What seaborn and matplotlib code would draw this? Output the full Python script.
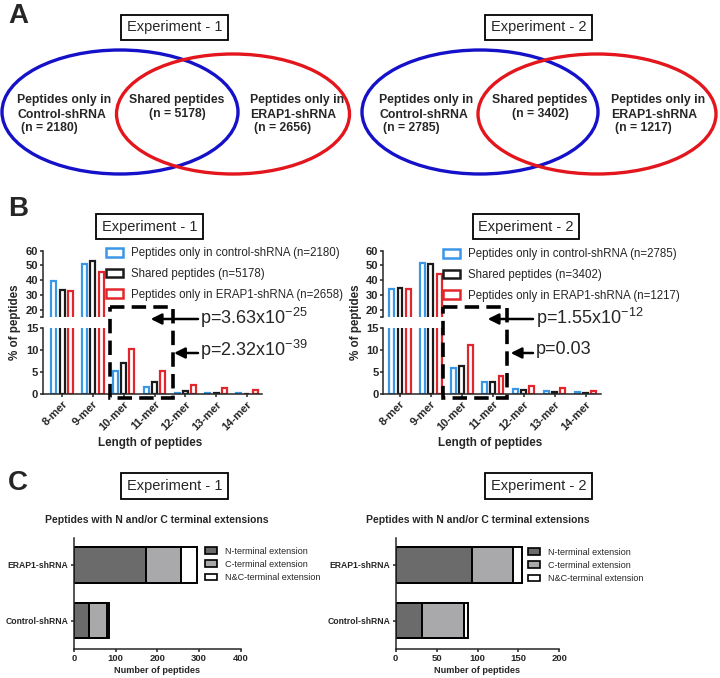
import numpy as np
import pandas as pd
import matplotlib
matplotlib.use("Agg")
import matplotlib.pyplot as plt
import seaborn as sns
from matplotlib.patches import Ellipse, Rectangle, Patch

sns.set_theme(style="ticks")
plt.rcParams["font.family"] = ["Liberation Sans", "DejaVu Sans"]
plt.rcParams["mathtext.default"] = "regular"
plt.rcParams["axes.linewidth"] = 1.1
plt.rcParams["xtick.major.width"] = 1.1
plt.rcParams["ytick.major.width"] = 1.1
plt.rcParams["xtick.major.size"] = 2.5
plt.rcParams["ytick.major.size"] = 2.5

W, H = 720, 678

# ---------------- data ----------------
experiments = ["Experiment - 1", "Experiment - 2"]

# Panel A (Venn counts): control-only, shared, ERAP1-only
venn_exp1 = [2180, 5178, 2656]
venn_exp2 = [2785, 3402, 1217]

# Panel B (% of peptides by length)
lengths = ["8-mer", "9-mer", "10-mer", "11-mer", "12-mer", "13-mer", "14-mer"]
series = ["control", "shared", "erap1"]
exp1_control = [39.1, 50.7, 5.4, 1.7, 0.4, 0.3, 0.2]
exp1_shared = [33.5, 53.3, 7.0, 2.7, 0.7, 0.3, 0.1]
exp1_erap1 = [32.8, 45.2, 10.3, 5.4, 2.2, 1.5, 0.9]
exp2_control = [34.3, 51.8, 6.0, 2.8, 1.2, 0.7, 0.5]
exp2_shared = [34.6, 50.9, 6.4, 2.9, 1.0, 0.6, 0.3]
exp2_erap1 = [33.9, 44.0, 11.3, 4.1, 1.8, 1.4, 0.8]
legend_n_exp1 = [2180, 5178, 2658]
legend_n_exp2 = [2785, 3402, 1217]
pvals_exp1 = ["p=3.63x10$^{-25}$", "p=2.32x10$^{-39}$"]
pvals_exp2 = ["p=1.55x10$^{-12}$", "p=0.03"]

# Panel C (number of peptides with extensions)
conditions = ["ERAP1-shRNA", "Control-shRNA"]
ext_labels = ["N-terminal extension", "C-terminal extension", "N&C-terminal extension"]
exp1_nterm = [172, 35]
exp1_cterm = [84, 45]
exp1_ncterm = [40, 4]
exp2_nterm = [93, 32]
exp2_cterm = [50, 52]
exp2_ncterm = [11, 4]

# ---------------- styling ----------------
bar_colors = {"control": "#3a96e6", "shared": "#1a1a1a", "erap1": "#e3262b"}
ext_colors = ["#6b6b6b", "#a9a9ac", "#ffffff"]

fig = plt.figure(figsize=(W / 100, H / 100), dpi=100)
fig.patch.set_facecolor("white")


def rect(x0, y0, x1, y1):
    return [x0 / W, 1 - y1 / H, (x1 - x0) / W, (y1 - y0) / H]


def fpt(x, y):
    return (x / W, 1 - y / H)


# ---------------- Panel B ----------------
b_specs = [
    dict(vals=[exp1_control, exp1_shared, exp1_erap1], n=legend_n_exp1, x0=43, x1=262,
         xlim=(-0.62, 6.49), leg=(106, 247.5), ylab_x=15),
    dict(vals=[exp2_control, exp2_shared, exp2_erap1], n=legend_n_exp2, x0=383.3, x1=600.7,
         xlim=(-0.54, 6.49), leg=(443, 248.5), ylab_x=356),
]
for spec in b_specs:
    df = pd.DataFrame({
        "length": lengths * 3,
        "group": sum([[s] * len(lengths) for s in series], []),
        "pct": sum(spec["vals"], []),
    })
    ax_hi = fig.add_axes(rect(spec["x0"], 250.7, spec["x1"], 316.9))
    ax_lo = fig.add_axes(rect(spec["x0"], 328.3, spec["x1"], 394.3))
    for ax in (ax_hi, ax_lo):
        sns.barplot(data=df, x="length", y="pct", hue="group", order=lengths,
                    hue_order=series, palette=bar_colors, fill=False, width=0.8,
                    gap=0.4, linewidth=1.6, saturation=1, errorbar=None,
                    legend=False, ax=ax)
        ax.set_xlim(*spec["xlim"])
        ax.patch.set_visible(False)
        ax.set_ylabel("")
        ax.set_xlabel("")
        for s in ("top", "right"):
            ax.spines[s].set_visible(False)
    ax_hi.set_ylim(15, 60)
    ax_hi.set_yticks([15, 20, 30, 40, 50, 60])
    ax_hi.set_yticklabels(["", "20", "30", "40", "50", "60"], fontsize=8, fontweight="bold")
    ax_hi.spines["bottom"].set_visible(False)
    ax_hi.tick_params(axis="x", bottom=False, labelbottom=False)
    ax_lo.set_ylim(0, 15)
    ax_lo.set_yticks([0, 5, 10, 15])
    ax_lo.set_yticklabels(["0", "5", "10", "15"], fontsize=8, fontweight="bold")
    ax_lo.set_xticks(range(len(lengths)))
    ax_lo.set_xticklabels(lengths, rotation=45, ha="right", rotation_mode="anchor",
                          fontsize=8, fontweight="bold")
    ax_lo.tick_params(axis="both", pad=1)
    ax_hi.tick_params(axis="y", pad=1)
    cx = (spec["x0"] + spec["x1"]) / 2
    fig.text(*fpt(cx - 2, 443), "Length of peptides", ha="center", va="center",
             fontsize=8.4, fontweight="bold")
    fig.text(*fpt(spec["ylab_x"], 322), "% of peptides", ha="center", va="center",
             rotation=90, fontsize=8.4, fontweight="bold")
    handles = [Patch(facecolor="white", edgecolor=bar_colors[s], linewidth=1.8) for s in series]
    labels = [f"Peptides only in control-shRNA (n={spec['n'][0]})",
              f"Shared peptides (n={spec['n'][1]})",
              f"Peptides only in ERAP1-shRNA (n={spec['n'][2]})"]
    fig.legend(handles, labels, loc="upper left", bbox_to_anchor=fpt(*spec["leg"]),
               bbox_transform=fig.transFigure, frameon=False, fontsize=8.3,
               handlelength=1.5, handleheight=0.75, handletextpad=0.7,
               labelspacing=0.74, borderpad=0, borderaxespad=0)

# ---------------- Panel C ----------------
c_specs = [
    dict(n=exp1_nterm, c=exp1_cterm, nc=exp1_ncterm, x0=74, x1=240.7, xmax=400,
         xticks=[0, 100, 200, 300, 400], title_x=157, leg=(205, 547)),
    dict(n=exp2_nterm, c=exp2_cterm, nc=exp2_ncterm, x0=395.7, x1=559.3, xmax=200,
         xticks=[0, 50, 100, 150, 200], title_x=477.5, leg=(528, 548)),
]
for spec in c_specs:
    dfc = pd.DataFrame({"cond": conditions, "n": spec["n"], "c": spec["c"], "nc": spec["nc"]})
    dfc["nc_cum"] = dfc["n"] + dfc["c"] + dfc["nc"]
    dfc["c_cum"] = dfc["n"] + dfc["c"]
    ax = fig.add_axes(rect(spec["x0"], 538, spec["x1"], 648.5))
    for col, colr in (("nc_cum", ext_colors[2]), ("c_cum", ext_colors[1]), ("n", ext_colors[0])):
        sns.barplot(data=dfc, x=col, y="cond", order=conditions, orient="h",
                    color=colr, saturation=1, edgecolor="black", linewidth=1.4,
                    width=0.64, errorbar=None, ax=ax)
    ax.set_xlim(0, spec["xmax"])
    ax.set_ylim(1.5, -0.48)
    ax.set_xticks(spec["xticks"])
    ax.set_xticklabels([str(v) for v in spec["xticks"]], fontsize=6.8, fontweight="bold")
    ax.set_yticks(range(len(conditions)))
    ax.set_yticklabels(conditions, fontsize=6.2, fontweight="bold")
    ax.tick_params(axis="both", pad=1.5)
    ax.set_ylabel("")
    ax.set_xlabel("Number of peptides", fontsize=6.6, fontweight="bold", labelpad=2)
    ax.patch.set_visible(False)
    for s in ("top", "right"):
        ax.spines[s].set_visible(False)
    fig.text(*fpt(spec["title_x"], 520), "Peptides with N and/or C terminal extensions",
             ha="center", va="center", fontsize=7.5, fontweight="bold")
    handles = [Patch(facecolor=c, edgecolor="black", linewidth=1.2) for c in ext_colors]
    fig.legend(handles, ext_labels, loc="upper left", bbox_to_anchor=fpt(*spec["leg"]),
               bbox_transform=fig.transFigure, frameon=False, fontsize=6.5,
               handlelength=1.3, handleheight=0.8, handletextpad=0.9,
               labelspacing=0.45, borderpad=0, borderaxespad=0)

# ---------------- Decorations / Panel A ----------------
deco = fig.add_axes([0, 0, 1, 1])
deco.set_xlim(0, W)
deco.set_ylim(H, 0)
deco.axis("off")
deco.patch.set_visible(False)

for letter, y in (("A", 16), ("B", 209), ("C", 483)):
    deco.text(18, y, letter, ha="center", va="center", fontsize=20, fontweight="bold")

box_centers = [(174.5, 27.5), (538.5, 27.5), (149.5, 226.5), (526, 226.5), (174.5, 486), (538.5, 486)]
for i, (x, y) in enumerate(box_centers):
    deco.text(x, y, experiments[i % 2], ha="center", va="center", fontsize=10.5,
              bbox=dict(boxstyle="square,pad=0.38", fc="white", ec="black", lw=1.3))

venn_specs = [
    dict(counts=venn_exp1, blue=(120, 112, 236, 124), red=(233, 114, 233, 120),
         lx=17, mx=177, rx=250),
    dict(counts=venn_exp2, blue=(480, 112, 236, 124), red=(597, 114, 238, 120),
         lx=379, mx=540, rx=611),
]
for v in venn_specs:
    bx, by, bw, bh = v["blue"]
    rx_, ry_, rw, rh = v["red"]
    deco.add_patch(Ellipse((bx, by), bw, bh, fill=False, ec="#1511c9", lw=2.4))
    deco.add_patch(Ellipse((rx_, ry_), rw, rh, fill=False, ec="#e3161d", lw=2.4))
    fs = 8.8
    deco.text(v["lx"], 100.5, "Peptides only in", ha="left", va="center", fontsize=fs, fontweight="bold")
    deco.text(v["lx"], 115, "Control-shRNA", ha="left", va="center", fontsize=fs, fontweight="bold")
    deco.text(v["lx"] + 4, 128.5, f"(n = {v['counts'][0]})", ha="left", va="center", fontsize=fs, fontweight="bold")
    deco.text(v["mx"], 100.5, "Shared peptides", ha="center", va="center", fontsize=fs, fontweight="bold")
    deco.text(v["mx"], 114.5, f"(n = {v['counts'][1]})", ha="center", va="center", fontsize=fs, fontweight="bold")
    deco.text(v["rx"], 100.5, "Peptides only in", ha="left", va="center", fontsize=fs, fontweight="bold")
    deco.text(v["rx"], 115, "ERAP1-shRNA", ha="left", va="center", fontsize=fs, fontweight="bold")
    deco.text(v["rx"] + 4, 128.5, f"(n = {v['counts'][2]})", ha="left", va="center", fontsize=fs, fontweight="bold")

# dashed boxes and p-value arrows (panel B)
annot = [
    dict(box=(110, 307, 173, 398), up=(198, 150.7), lo=(198, 174), tx=200, p=pvals_exp1),
    dict(box=(443, 307, 507, 398), up=(533, 487.7), lo=(533, 510.7), tx=536, p=pvals_exp2),
]
for a in annot:
    x0, y0, x1, y1 = a["box"]
    deco.add_patch(Rectangle((x0, y0), x1 - x0, y1 - y0, fill=False, ec="black",
                             lw=2.6, ls=(0, (4, 2))))
    deco.annotate("", xy=(a["up"][1], 319), xytext=(a["up"][0], 319),
                  arrowprops=dict(arrowstyle="-|>", lw=1.8, color="black", mutation_scale=16,
                                  shrinkA=0, shrinkB=0))
    deco.annotate("", xy=(a["lo"][1], 353), xytext=(a["lo"][0], 353),
                  arrowprops=dict(arrowstyle="-|>", lw=1.8, color="black", mutation_scale=16,
                                  shrinkA=0, shrinkB=0))
    deco.text(a["tx"], 318, a["p"][0], ha="left", va="center", fontsize=13)
    deco.text(a["tx"], 350, a["p"][1], ha="left", va="center", fontsize=13)

fig.savefig("out.png", dpi=100, facecolor="white")
